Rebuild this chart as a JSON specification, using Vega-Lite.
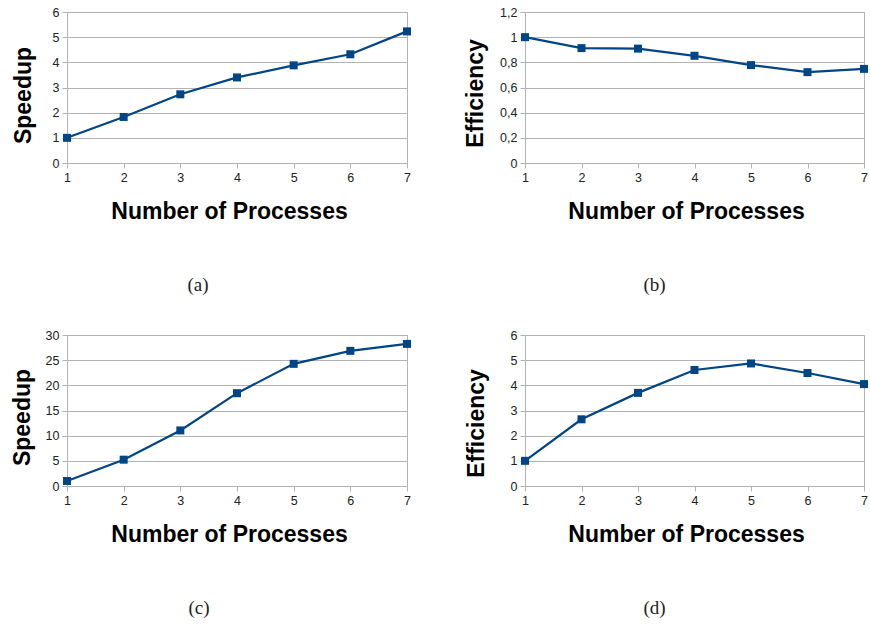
{
  "$schema": "https://vega.github.io/schema/vega-lite/v6.json",
  "background": "white",
  "padding": {"left": 10, "top": 5, "right": 0, "bottom": 0},
  "data": {"values": [
    {"panel": "a", "p": 1, "v": 1.0}, {"panel": "a", "p": 2, "v": 1.83}, {"panel": "a", "p": 3, "v": 2.73}, {"panel": "a", "p": 4, "v": 3.40}, {"panel": "a", "p": 5, "v": 3.88}, {"panel": "a", "p": 6, "v": 4.32}, {"panel": "a", "p": 7, "v": 5.23},
    {"panel": "b", "p": 1, "v": 1.0}, {"panel": "b", "p": 2, "v": 0.913}, {"panel": "b", "p": 3, "v": 0.909}, {"panel": "b", "p": 4, "v": 0.852}, {"panel": "b", "p": 5, "v": 0.778}, {"panel": "b", "p": 6, "v": 0.722}, {"panel": "b", "p": 7, "v": 0.748},
    {"panel": "c", "p": 1, "v": 1.0}, {"panel": "c", "p": 2, "v": 5.23}, {"panel": "c", "p": 3, "v": 11.04}, {"panel": "c", "p": 4, "v": 18.44}, {"panel": "c", "p": 5, "v": 24.27}, {"panel": "c", "p": 6, "v": 26.85}, {"panel": "c", "p": 7, "v": 28.23},
    {"panel": "d", "p": 1, "v": 1.0}, {"panel": "d", "p": 2, "v": 2.65}, {"panel": "d", "p": 3, "v": 3.70}, {"panel": "d", "p": 4, "v": 4.61}, {"panel": "d", "p": 5, "v": 4.87}, {"panel": "d", "p": 6, "v": 4.49}, {"panel": "d", "p": 7, "v": 4.05}
  ]},
  "columns": 2,
  "align": "each",
  "bounds": "full",
  "spacing": {"row": 33, "column": 52},
  "concat": [
    {
      "width": 340, "height": 151,
      "title": {"text": "(a)", "dx": -39},
      "transform": [{"filter": "datum.panel == 'a'"}],
      "mark": {"type": "line", "color": "#004586", "strokeWidth": 2.2, "point": {"shape": "square", "size": 64, "filled": true, "color": "#004586", "opacity": 1}},
      "encoding": {
        "x": {"field": "p", "type": "quantitative", "scale": {"domain": [1, 7], "nice": false, "zero": false}, "axis": {"values": [1, 2, 3, 4, 5, 6, 7], "format": "d", "title": "Number of Processes", "grid": false, "titleX": 162}},
        "y": {"field": "v", "type": "quantitative", "scale": {"domain": [0, 6], "nice": false}, "axis": {"values": [0, 1, 2, 3, 4, 5, 6], "format": "d", "title": "Speedup", "titleY": 83, "titlePadding": 17}}
      }
    },
    {
      "width": 339, "height": 151,
      "title": {"text": "(b)", "dx": -40},
      "transform": [{"filter": "datum.panel == 'b'"}],
      "mark": {"type": "line", "color": "#004586", "strokeWidth": 2.2, "point": {"shape": "square", "size": 64, "filled": true, "color": "#004586", "opacity": 1}},
      "encoding": {
        "x": {"field": "p", "type": "quantitative", "scale": {"domain": [1, 7], "nice": false, "zero": false}, "axis": {"values": [1, 2, 3, 4, 5, 6, 7], "format": "d", "title": "Number of Processes", "grid": false, "titleX": 161}},
        "y": {"field": "v", "type": "quantitative", "scale": {"domain": [0, 1.2], "nice": false}, "axis": {"values": [0, 0.2, 0.4, 0.6, 0.8, 1, 1.2], "labelExpr": "replace(format(datum.value, '.1~f'), '.', ',')", "title": "Efficiency", "titleY": 81, "titlePadding": 12}}
      }
    },
    {
      "width": 340, "height": 151,
      "title": {"text": "(c)", "dx": -38},
      "transform": [{"filter": "datum.panel == 'c'"}],
      "mark": {"type": "line", "color": "#004586", "strokeWidth": 2.2, "point": {"shape": "square", "size": 64, "filled": true, "color": "#004586", "opacity": 1}},
      "encoding": {
        "x": {"field": "p", "type": "quantitative", "scale": {"domain": [1, 7], "nice": false, "zero": false}, "axis": {"values": [1, 2, 3, 4, 5, 6, 7], "format": "d", "title": "Number of Processes", "grid": false, "titleX": 162}},
        "y": {"field": "v", "type": "quantitative", "scale": {"domain": [0, 30], "nice": false}, "axis": {"values": [0, 5, 10, 15, 20, 25, 30], "format": "d", "title": "Speedup", "titleY": 82, "titlePadding": 11}}
      }
    },
    {
      "width": 339, "height": 151,
      "title": {"text": "(d)", "dx": -40},
      "transform": [{"filter": "datum.panel == 'd'"}],
      "mark": {"type": "line", "color": "#004586", "strokeWidth": 2.2, "point": {"shape": "square", "size": 64, "filled": true, "color": "#004586", "opacity": 1}},
      "encoding": {
        "x": {"field": "p", "type": "quantitative", "scale": {"domain": [1, 7], "nice": false, "zero": false}, "axis": {"values": [1, 2, 3, 4, 5, 6, 7], "format": "d", "title": "Number of Processes", "grid": false, "titleX": 161}},
        "y": {"field": "v", "type": "quantitative", "scale": {"domain": [0, 6], "nice": false}, "axis": {"values": [0, 1, 2, 3, 4, 5, 6], "format": "d", "title": "Efficiency", "titleY": 88, "titlePadding": 22}}
      }
    }
  ],
  "config": {
    "view": {"stroke": "#b3b3b3", "strokeWidth": 1},
    "axis": {
      "labelFont": "Liberation Sans", "labelFontSize": 12.5, "labelColor": "#222", "labelFlush": false, "labelOverlap": false, "labelPadding": 3,
      "titleFont": "Liberation Sans", "titleFontSize": 23, "titleFontWeight": "bold", "titleColor": "#000",
      "gridColor": "#b3b3b3", "gridWidth": 1, "domainColor": "#b3b3b3", "domainWidth": 1, "tickColor": "#b3b3b3", "tickSize": 5, "tickWidth": 1
    },
    "axisX": {"titlePadding": 17},
    "title": {"orient": "bottom", "anchor": "middle", "offset": 52, "font": "Liberation Serif", "fontSize": 19, "fontWeight": "normal", "color": "#222"}
  }
}
